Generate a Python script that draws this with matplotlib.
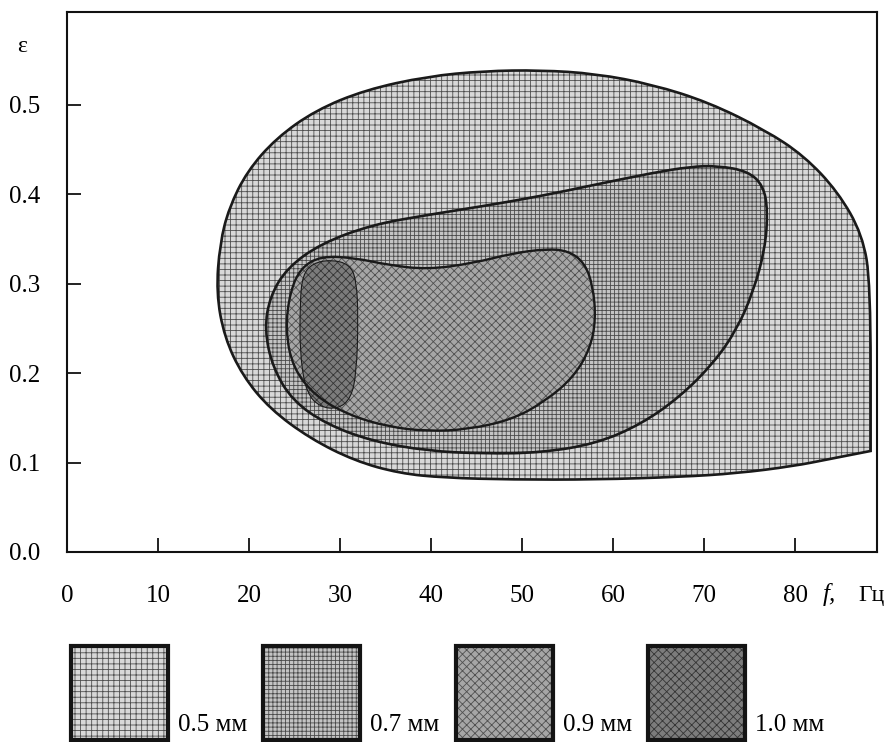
"""
Zones of the (f, eps) plane for four particle sizes, redrawn from a scanned figure.
"""

import numpy as np
import matplotlib
matplotlib.use("Agg")
from matplotlib import pyplot as plt
from matplotlib.path import Path
from matplotlib.patches import PathPatch, Rectangle

# contour outlines: f in Hz, eps dimensionless
f_05 = [16.4, 16.8, 17.8, 19.8, 23.0, 27.3, 32.8, 39.6, 45.8, 52.0, 58.1, 64.3, 70.5,
        76.7, 81.0, 84.7, 87.4, 88.3, 88.3, 88.3, 83.8, 79.8, 73.6, 67.4, 58.1, 48.9,
        41.5, 36.5, 31.6, 26.7, 22.3, 19.3, 17.3]
e_05 = [0.290, 0.345, 0.385, 0.426, 0.463, 0.494, 0.517, 0.532, 0.538, 0.539, 0.535, 0.523, 0.503,
        0.472, 0.443, 0.403, 0.355, 0.300, 0.113, 0.113, 0.104, 0.096, 0.088, 0.084, 0.081, 0.081,
        0.083, 0.088, 0.102, 0.127, 0.160, 0.197, 0.240]

f_07 = [21.7, 22.3, 24.2, 27.9, 33.5, 39.6, 45.8, 52.0, 58.1, 64.3, 68.5, 71.5, 74.8, 76.5,
        77.0, 76.7, 75.4, 73.6, 71.1, 67.4, 63.1, 58.1, 52.0, 45.8, 39.6, 33.5, 28.5, 24.8, 22.6]
e_07 = [0.249, 0.286, 0.318, 0.345, 0.366, 0.377, 0.387, 0.398, 0.411, 0.424, 0.431, 0.432, 0.426, 0.410,
        0.382, 0.339, 0.291, 0.249, 0.212, 0.174, 0.143, 0.121, 0.111, 0.110, 0.113, 0.124, 0.143, 0.169, 0.206]

f_09 = [24.0, 24.5, 25.7, 27.9, 31.6, 35.3, 39.6, 44.6, 48.9, 52.6, 55.1, 56.9, 57.8, 58.1,
        57.5, 55.7, 52.6, 48.9, 44.0, 39.6, 35.3, 31.0, 27.3, 24.8]
e_09 = [0.249, 0.291, 0.318, 0.331, 0.329, 0.321, 0.316, 0.323, 0.334, 0.339, 0.337, 0.323, 0.297, 0.260,
        0.228, 0.196, 0.169, 0.148, 0.137, 0.135, 0.140, 0.153, 0.174, 0.206]

f_10 = [25.6, 25.9, 27.0, 29.0, 31.0, 31.8, 32.0, 31.8, 31.2, 29.8, 27.8, 26.3, 25.6]
e_10 = [0.280, 0.310, 0.323, 0.327, 0.322, 0.305, 0.260, 0.200, 0.172, 0.160, 0.162, 0.178, 0.220]

sizes = ["0.5 мм", "0.7 мм", "0.9 мм", "1.0 мм"]
x_ticks = [0, 10, 20, 30, 40, 50, 60, 70, 80]
y_ticks = [0.0, 0.1, 0.2, 0.3, 0.4, 0.5]

# look of each zone: base grey, hatch, hatch colour
styles = [
    ("#d8d8d8", "+++", "#4e4e4e"),
    ("#c4c4c4", "++++", "#4a4a4a"),
    ("#a6a6a6", "xxxx", "#505050"),
    ("#7c7c7c", "xxxx", "#353535"),
]

SERIF = ["Liberation Serif", "DejaVu Serif"]
plt.rcParams["hatch.linewidth"] = 0.6


def smooth_path(fs, es):
    # quadratic spline through the midpoints; a repeated point gives a sharp corner
    pts = np.column_stack([fs, es])
    mids = (pts + np.roll(pts, -1, axis=0)) / 2
    verts = [mids[-1]]
    codes = [Path.MOVETO]
    for p, m in zip(pts, mids):
        verts += [p, m]
        codes += [Path.CURVE3, Path.CURVE3]
    verts.append(mids[-1])
    codes.append(Path.CLOSEPOLY)
    return Path(verts, codes)


def draw_zone(ax, fs, es, style, lw):
    face, hatch, hcol = style
    path = smooth_path(fs, es)
    ax.add_patch(PathPatch(path, facecolor=face, edgecolor="none", zorder=2))
    ax.add_patch(PathPatch(path, facecolor="none", edgecolor=hcol, hatch=hatch, linewidth=0, zorder=2))
    ax.add_patch(PathPatch(path, facecolor="none", edgecolor="#1a1a1a", linewidth=lw, zorder=3))


fig = plt.figure(figsize=(8.86, 7.42), dpi=100)
ax = fig.add_axes([67 / 886, 1 - 552 / 742, 810 / 886, 540 / 742])

draw_zone(ax, f_05, e_05, styles[0], 1.9)
draw_zone(ax, f_07, e_07, styles[1], 1.9)
draw_zone(ax, f_09, e_09, styles[2], 1.7)
draw_zone(ax, f_10, e_10, styles[3], 0.8)

ax.set_xlim(0.4, 89.0)
ax.set_ylim(0, 0.604)
ax.set_xticks(x_ticks)
ax.set_yticks(y_ticks)
ax.set_xticklabels([str(v) for v in x_ticks], family=SERIF, fontsize=18)
ax.set_yticklabels([f"{v:.1f}" for v in y_ticks], family=SERIF, fontsize=18)
ax.tick_params(axis="x", direction="in", length=10, width=1.3, pad=24, color="#111111")
ax.tick_params(axis="y", direction="in", length=10, width=1.3, pad=19, color="#111111")
for sp in ax.spines.values():
    sp.set_linewidth(1.5)
    sp.set_color("#111111")

fig.text(22 / 886, 1 - 47 / 742, "ε", family=SERIF, fontsize=17, ha="center", va="center")
fig.text(829 / 886, 1 - 595 / 742, "f,", family=SERIF, style="italic", fontsize=18, ha="center", va="center")
fig.text(871 / 886, 1 - 595 / 742, "Гц", family=SERIF, fontsize=17, ha="center", va="center")

# legend swatches along the bottom
box_left = [71, 263, 456, 648]
for i, (x0, label) in enumerate(zip(box_left, sizes)):
    face, hatch, hcol = styles[i]
    rect = [x0 / 886, 2 / 742, 97 / 886, 94 / 742]
    fig.patches.append(Rectangle(rect[:2], rect[2], rect[3], transform=fig.transFigure,
                                 facecolor=face, edgecolor="none"))
    fig.patches.append(Rectangle(rect[:2], rect[2], rect[3], transform=fig.transFigure,
                                 facecolor="none", edgecolor=hcol, hatch=hatch, linewidth=0))
    fig.patches.append(Rectangle(rect[:2], rect[2], rect[3], transform=fig.transFigure,
                                 facecolor="none", edgecolor="#141414", linewidth=3.0))
    fig.text((x0 + 107) / 886, 1 - 731 / 742, label, family=SERIF, fontsize=18,
             ha="left", va="baseline")

fig.savefig("out.png", dpi=100)
